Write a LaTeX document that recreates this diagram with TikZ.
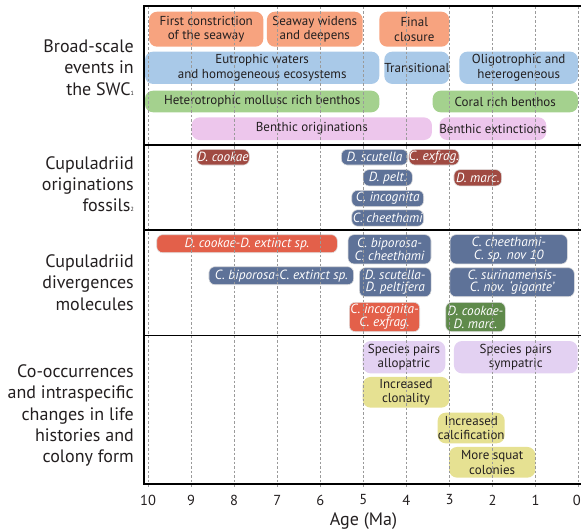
\documentclass[tikz,border=0pt]{standalone}
\usepackage{fontspec}
\setmainfont{PT Sans}
\definecolor{ink}{HTML}{231F20}
\definecolor{gridc}{HTML}{9A9A9A}
\definecolor{salmon}{HTML}{F7A37F}
\definecolor{skyb}{HTML}{A9C9E8}
\definecolor{leaf}{HTML}{A4D18E}
\definecolor{pinkb}{HTML}{EDC6EC}
\definecolor{brick}{HTML}{A04A42}
\definecolor{slate}{HTML}{5E7298}
\definecolor{vermil}{HTML}{E3604A}
\definecolor{moss}{HTML}{5F8A4B}
\definecolor{lilac}{HTML}{E3D1F2}
\definecolor{straw}{HTML}{E6E192}
\newcommand{\tinysub}[1]{{\fontsize{6}{6}\selectfont #1}}
\begin{document}
\begin{tikzpicture}[x=1pt,y=-1pt,
  evbox/.style={rectangle, rounded corners=8pt, inner sep=0pt, align=center,
    text=ink, font=\fontsize{13}{14.8}\selectfont},
  spbox/.style={rectangle, rounded corners=6pt, inner sep=0pt, align=center,
    text=white, draw=white!75!gray, line width=0.6pt,
    font=\fontsize{13.3}{12.9}\selectfont\itshape},
  sidelab/.style={anchor=east, align=right, inner sep=0pt, text=ink,
    font=\fontsize{18}{21.2}\selectfont},
  frame/.style={line width=1.4pt, black},
  gridline/.style={gridc, line width=0.7pt, dash pattern=on 2.5pt off 2pt}
]
\useasboundingbox (0,0) rectangle (581,532);

% ---------- Broad-scale events ----------
\node[evbox, fill=salmon, minimum width=114.3, minimum height=35] (first) at (206.2,29.2) {First constriction\\of the seaway};
\node[evbox, fill=salmon, minimum width=95.7, minimum height=35] (widen) at (314.8,29.2) {Seaway widens\\and deepens};
\node[evbox, fill=salmon, minimum width=70, minimum height=35] (final) at (414.3,29.2) {Final\\closure};

\node[evbox, fill=skyb, minimum width=234.3, minimum height=32.3] (eutro) at (262.2,67.8) {Eutrophic waters\\and homogeneous ecosystems};
\node[evbox, fill=skyb, minimum width=65, minimum height=32.3] (trans) at (416.8,67.8) {Transitional};
\node[evbox, fill=skyb, minimum width=118.7, minimum height=32.3] (oligo) at (518.7,67.8) {Oligotrophic and\\heterogeneous};

\node[evbox, fill=leaf, minimum width=234.3, minimum height=21.6] (hetero) at (262.2,101.5) {Heterotrophic mollusc rich benthos};
\node[evbox, fill=leaf, minimum width=145.3, minimum height=21.6] (coral) at (505.3,101.5) {Coral rich benthos};

\node[evbox, fill=pinkb, minimum width=240.3, minimum height=22.7] (borig) at (311.8,128.7) {Benthic originations};
\node[evbox, fill=pinkb, minimum width=105.7, minimum height=22.7] (bext) at (492.8,128.7) {Benthic extinctions};

% ---------- Fossil originations ----------
\node[spbox, fill=brick, minimum width=52.6, minimum height=15.7] (fcook) at (223,157.2) {D. cookae};
\node[spbox, fill=slate, minimum width=66.4, minimum height=15.7] (fscut) at (374.5,157.2) {D. scutella};
\node[spbox, fill=brick, minimum width=48.6, minimum height=15.7] (fexfr) at (434,157.2) {C. exfrag.};
\node[spbox, fill=slate, minimum width=49.3, minimum height=16.3] (fpelt) at (387.7,177.8) {D. pelt.};
\node[spbox, fill=brick, minimum width=47.7, minimum height=16.3] (fmarc) at (477.8,177.8) {D. marc.};
\node[spbox, fill=slate, minimum width=72, minimum height=16.4] (fincog) at (387.7,198.5) {C. incognita};
\node[spbox, fill=slate, minimum width=72, minimum height=16.4] (fcheet) at (387.7,218) {C. cheethami};

% ---------- Molecular divergences ----------
\node[spbox, fill=vermil, minimum width=180.6, minimum height=18] (mcookext) at (247,243.7) {D. cookae-D. extinct sp.};
\node[spbox, fill=slate, minimum width=83, minimum height=29.3] (mbipche) at (389.5,249.3) {C. biporosa-\\C. cheethami};
\node[spbox, fill=slate, minimum width=117.3, minimum height=29.3] (mchenov) at (508.7,249.3) {C. cheethami-\\C. sp. nov 10};
\node[spbox, fill=slate, minimum width=144.7, minimum height=18] (mbipext) at (281.3,275.7) {C. biporosa-C. extinct sp.};
\node[spbox, fill=slate, minimum width=71.7, minimum height=29] (mscupel) at (395.2,282.2) {D. scutella-\\D. peltifera};
\node[spbox, fill=slate, minimum width=124.6, minimum height=29] (msurgig) at (512,282.2) {C. surinamensis-\\C. nov. ‘gigante’};
\node[spbox, fill=vermil, minimum width=70.4, minimum height=29.4] (mincexf) at (384.5,317) {C. incognita-\\C. exfrag.};
\node[spbox, fill=moss, minimum width=59.6, minimum height=29.4] (mcookmar) at (475.5,317) {D. cookae-\\D. marc.};

% ---------- Co-occurrences and life histories ----------
\node[evbox, fill=lilac, minimum width=82.6, minimum height=32.3] (allo) at (404,357.2) {Species pairs\\allopatric};
\node[evbox, fill=lilac, minimum width=123.7, minimum height=32.3] (symp) at (515.8,357.2) {Species pairs\\sympatric};
\node[evbox, fill=straw, minimum width=86.6, minimum height=30.7] (clon) at (406,392.3) {Increased\\clonality};
\node[evbox, fill=straw, minimum width=67, minimum height=30.6] (calc) at (471.2,428) {Increased\\calcification};
\node[evbox, fill=straw, minimum width=86.3, minimum height=30.7] (squat) at (492.2,462.3) {More squat\\colonies};

% ---------- Age grid (drawn over the bars) ----------
\foreach \a in {0,...,10} {
  \draw[gridline] ({578.7-43.07*\a},7) -- ({578.7-43.07*\a},488);
}
\foreach \a in {1,...,10} {
  \node[text=ink, font=\fontsize{14.5}{15}\selectfont, inner sep=0pt] (tick\a) at ({578.7-43.07*\a},500) {\a};
}
\node[text=ink, font=\fontsize{14.5}{15}\selectfont, inner sep=0pt, anchor=east] (tick0) at (581,500) {0};
\node[text=ink, font=\fontsize{18}{19}\selectfont, inner sep=0pt] (agelab) at (363.5,521) {Age (Ma)};

% ---------- Panel frame and row separators ----------
\draw[frame] (581,6) -- (144,6) -- (144,484) -- (581,484);
\draw[frame] (144,145) -- (581,145);
\draw[frame] (144,230) -- (581,230);
\draw[frame] (144,335.5) -- (581,335.5);

% ---------- Row labels ----------
\node[sidelab] (rowevents) at (134,67.7) {Broad-scale\\events in\\the SWC\tinysub{1}};
\node[sidelab] (rowfossil) at (134,184.3) {Cupuladriid\\originations\\fossils\tinysub{2}};
\node[sidelab] (rowmolec) at (134,282.5) {Cupuladriid\\divergences\\molecules};
\node[sidelab] (rowlife) at (134,415.5) {Co-occurrences\\and intraspecific\\changes in life\\histories and\\colony form};
\end{tikzpicture}
\end{document}
